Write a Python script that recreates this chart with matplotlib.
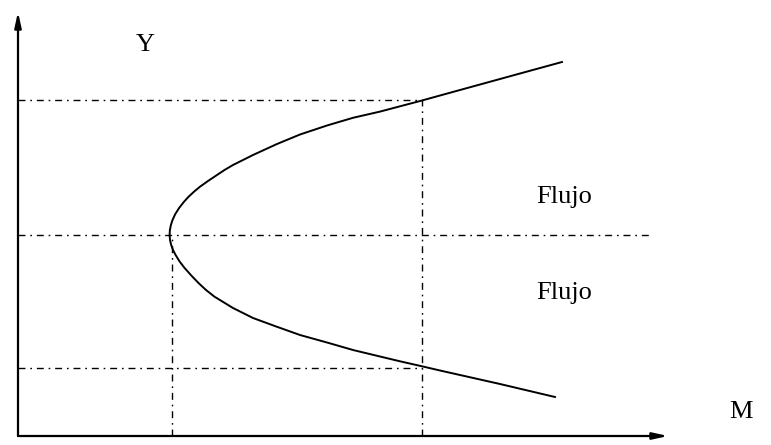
import matplotlib
matplotlib.use('Agg')
import matplotlib.pyplot as plt

# Curva (M, Y), de arriba hacia abajo
curva_m = [544, 502, 462, 422, 404, 382, 362, 335, 309, 282, 259, 235, 215, 206.5, 199, 190,
           182, 176.8, 170.6, 165.8, 161.1, 157.3, 154.5, 152.9, 151.9, 151.6,
           152, 153.2, 155, 157.6, 161.6, 166.6, 173.3, 180.5, 188, 196.5,
           215, 235, 258.7, 282, 309, 335, 362, 382, 404, 422, 482, 537]
curva_y = [374, 362.5, 351.5, 340.5, 335.5, 329.7, 324.4, 318.2, 310.5, 301.5, 292, 281, 271,
           266, 261, 255, 249.3, 245, 239.3, 234, 228, 222, 216, 211, 206, 201,
           196, 191, 186, 181, 174.5, 168, 160.5, 153, 146, 139.3,
           128, 118, 109.3, 101, 93.5, 86, 79.5, 74.7, 69.7, 65.5, 52, 39]

# Líneas de referencia (punto-raya)
y_ref = [336, 201, 68]
y_ref_fin = [404, 634, 404]
m_ref = [154, 404]
m_ref_fin = [201, 336]

etiquetas = ['Y', 'M', 'Flujo', 'Flujo']
etiq_pos = [(127, 391), (723, 24), (546, 239), (546, 143)]

plt.rcParams['font.family'] = ['Liberation Serif']

fig = plt.figure(figsize=(7.71, 4.45), dpi=100)
ax = fig.add_axes([0, 0, 1, 1])
ax.set_xlim(-18, 753)
ax.set_ylim(-9, 436)
ax.axis('off')

# ejes con flecha
flecha = dict(arrowstyle='-|>,head_length=0.9,head_width=0.2', lw=1.6, color='black',
              shrinkA=0, shrinkB=0)
ax.annotate('', xy=(0, 424), xytext=(0, 0), arrowprops=flecha)
ax.annotate('', xy=(650, 0), xytext=(0, 0), arrowprops=flecha)

# punto-raya
pr = (5, 3.5, 1.2, 3.5)
for y, fin in zip(y_ref, y_ref_fin):
    ax.plot([0, fin], [y, y], color='black', lw=1.0, ls='-.', dashes=pr)
for m, fin in zip(m_ref, m_ref_fin):
    ax.plot([m, m], [0, fin], color='black', lw=1.0, ls='-.', dashes=pr)

ax.plot(curva_m, curva_y, color='black', lw=1.4, solid_joinstyle='round')

for t, (x, y) in zip(etiquetas, etiq_pos):
    ax.text(x, y, t, fontsize=19, ha='center', va='center')

fig.savefig('out.png', dpi=100)
